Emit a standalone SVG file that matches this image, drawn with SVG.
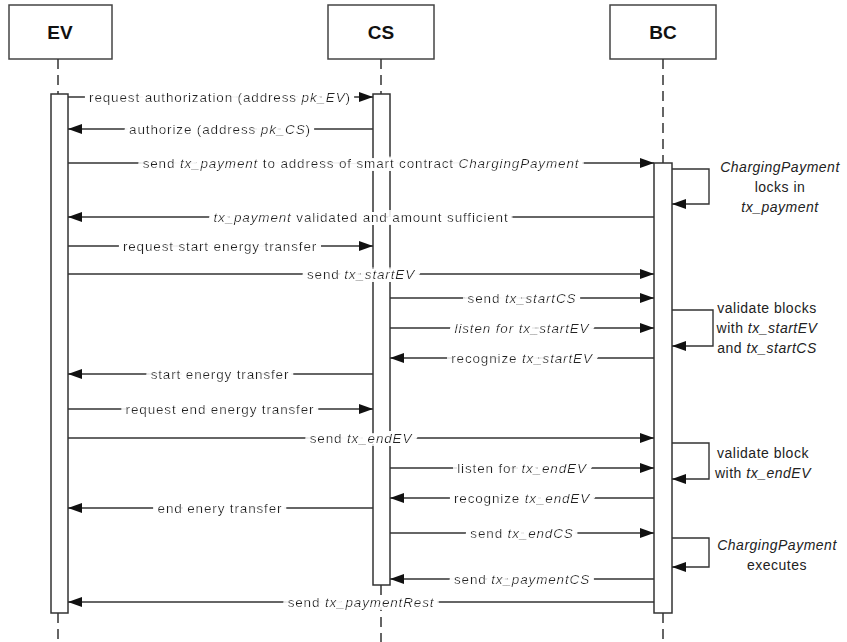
<svg xmlns="http://www.w3.org/2000/svg" width="847" height="642" viewBox="0 0 847 642">
<defs>
<marker id="ah" markerUnits="userSpaceOnUse" markerWidth="15" markerHeight="12" refX="14" refY="5" orient="auto">
<path d="M0,0 L14,5 L0,10 z" fill="#111"/>
</marker>
<filter id="bg" filterUnits="userSpaceOnUse" x="0" y="0" width="847" height="642">
<feMorphology in="SourceAlpha" operator="dilate" radius="4.5 3" result="d"/>
<feFlood flood-color="#ffffff"/>
<feComposite in2="d" operator="in" result="w"/>
<feMerge><feMergeNode in="w"/><feMergeNode in="SourceGraphic"/></feMerge>
</filter>
<style>
.hdr{fill:#fff;stroke:#444;stroke-width:1.5}
.ht{font-family:"Liberation Sans",Arial,sans-serif;font-weight:bold;font-size:19px;fill:#111;text-anchor:middle}
.life{stroke:#333;stroke-width:1.5;stroke-dasharray:10 6;fill:none}
.act{fill:#fff;stroke:#333;stroke-width:1.5}
.msg{stroke:#333;stroke-width:1.4;fill:none;marker-end:url(#ah)}
.lbl{font-family:"Liberation Sans",Arial,sans-serif;font-size:13.5px;letter-spacing:0.85px;fill:#222;text-anchor:middle}
.note{font-family:"Liberation Sans",Arial,sans-serif;font-size:14px;letter-spacing:0.5px;fill:#222;text-anchor:middle}
.i{font-style:italic}
</style>
</defs>

<g id="EV">
<rect class="hdr" x="9" y="5" width="103" height="54"/>
<text class="ht" x="60" y="39">EV</text>
<line class="life" x1="58" y1="59" x2="58" y2="94"/>
<line class="life" x1="58" y1="613" x2="58" y2="642"/>
<rect class="act" x="51" y="94" width="17" height="519"/>
</g>
<g id="CS">
<rect class="hdr" x="328" y="5" width="106" height="54"/>
<text class="ht" x="381" y="39">CS</text>
<line class="life" x1="381" y1="59" x2="381" y2="94"/>
<line class="life" x1="381" y1="585" x2="381" y2="642"/>
<rect class="act" x="373" y="94" width="17" height="491"/>
</g>
<g id="BC">
<rect class="hdr" x="610" y="5" width="106" height="54"/>
<text class="ht" x="663" y="39">BC</text>
<line class="life" x1="663" y1="59" x2="663" y2="163"/>
<line class="life" x1="663" y1="613" x2="663" y2="642"/>
<rect class="act" x="654" y="163" width="18" height="450"/>
</g>

<g id="connectors">
<line class="msg" x1="68" y1="97" x2="373" y2="97"/>
<line class="msg" x1="373" y1="129" x2="68" y2="129"/>
<line class="msg" x1="68" y1="163" x2="654" y2="163"/>
<line class="msg" x1="654" y1="217" x2="68" y2="217"/>
<line class="msg" x1="68" y1="246" x2="373" y2="246"/>
<line class="msg" x1="68" y1="274" x2="654" y2="274"/>
<line class="msg" x1="390" y1="298" x2="654" y2="298"/>
<line class="msg" x1="390" y1="328" x2="654" y2="328"/>
<line class="msg" x1="654" y1="358" x2="390" y2="358"/>
<line class="msg" x1="373" y1="374" x2="68" y2="374"/>
<line class="msg" x1="68" y1="409" x2="373" y2="409"/>
<line class="msg" x1="68" y1="438" x2="654" y2="438"/>
<line class="msg" x1="390" y1="468" x2="654" y2="468"/>
<line class="msg" x1="654" y1="498" x2="390" y2="498"/>
<line class="msg" x1="373" y1="508" x2="68" y2="508"/>
<line class="msg" x1="390" y1="533" x2="654" y2="533"/>
<line class="msg" x1="654" y1="579" x2="390" y2="579"/>
<line class="msg" x1="654" y1="602" x2="68" y2="602"/>
<path class="msg" d="M672,169 H709 V204 H672"/>
<path class="msg" d="M672,310 H713 V346 H672"/>
<path class="msg" d="M672,443 H709 V479 H672"/>
<path class="msg" d="M672,538 H709 V567 H672"/>
</g>

<g id="labels" filter="url(#bg)">
<text class="lbl" x="220" y="101.5">request authorization (address <tspan class="i">pk_EV</tspan>)</text>
<text class="lbl" x="220" y="133.5">authorize (address <tspan class="i">pk_CS</tspan>)</text>
<text class="lbl" x="361" y="167.5">send <tspan class="i">tx_payment</tspan> to address of smart contract <tspan class="i">ChargingPayment</tspan></text>
<text class="lbl" x="361" y="221.5"><tspan class="i">tx_payment</tspan> validated and amount sufficient</text>
<text class="lbl" x="220" y="250.5">request start energy transfer</text>
<text class="lbl" x="361" y="278.5">send <tspan class="i">tx_startEV</tspan></text>
<text class="lbl" x="522" y="302.5">send <tspan class="i">tx_startCS</tspan></text>
<text class="lbl i" x="522" y="332.5">listen for tx_startEV</text>
<text class="lbl" x="522" y="362.5">recognize <tspan class="i">tx_startEV</tspan></text>
<text class="lbl" x="220" y="378.5">start energy transfer</text>
<text class="lbl" x="220" y="413.5">request end energy transfer</text>
<text class="lbl" x="361" y="442.5">send <tspan class="i">tx_endEV</tspan></text>
<text class="lbl" x="522" y="472.5">listen for <tspan class="i">tx_endEV</tspan></text>
<text class="lbl" x="522" y="502.5">recognize <tspan class="i">tx_endEV</tspan></text>
<text class="lbl" x="220" y="512.5">end enery transfer</text>
<text class="lbl" x="522" y="537.5">send <tspan class="i">tx_endCS</tspan></text>
<text class="lbl" x="522" y="583.5">send <tspan class="i">tx_paymentCS</tspan></text>
<text class="lbl" x="361" y="606.5">send <tspan class="i">tx_paymentRest</tspan></text>
</g>

<g id="notes">
<text class="note" x="780" y="172"><tspan class="i">ChargingPayment</tspan><tspan x="780" dy="20">locks in</tspan><tspan x="780" dy="20" class="i">tx_payment</tspan></text>
<text class="note" x="767" y="313">validate blocks<tspan x="767" dy="20">with <tspan class="i">tx_startEV</tspan></tspan><tspan x="767" dy="20">and <tspan class="i">tx_startCS</tspan></tspan></text>
<text class="note" x="763" y="458">validate block<tspan x="763" dy="20">with <tspan class="i">tx_endEV</tspan></tspan></text>
<text class="note" x="777" y="550"><tspan class="i">ChargingPayment</tspan><tspan x="777" dy="20">executes</tspan></text>
</g>
</svg>
